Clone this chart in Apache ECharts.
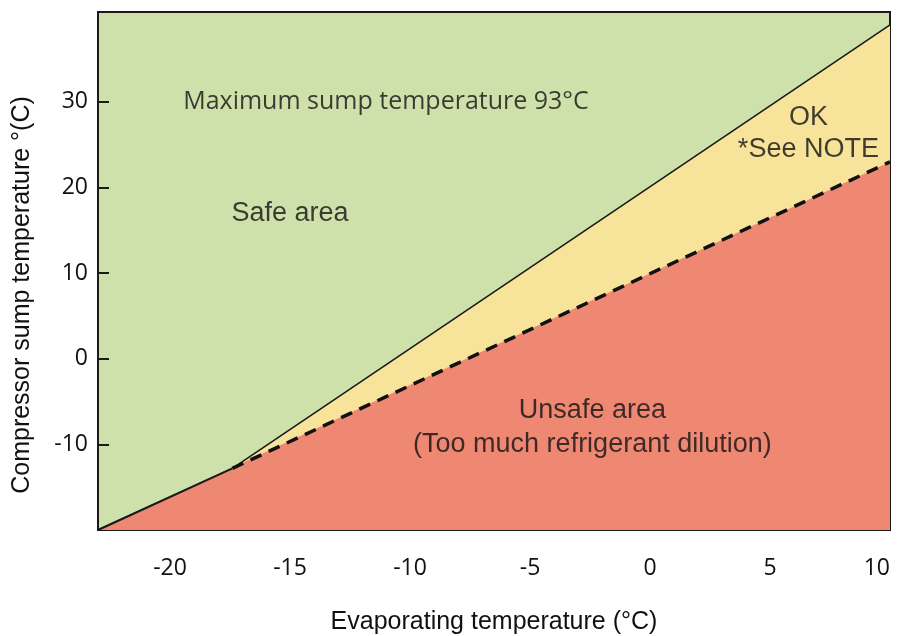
<!DOCTYPE html>
<html>
<head>
<meta charset="utf-8">
<script src="https://cdn.jsdelivr.net/npm/echarts@6/dist/echarts.min.js"></script>
<style>
  html, body { margin: 0; padding: 0; background: #fff; }
  #chart { width: 899px; height: 636px; }
</style>
</head>
<body>
<div id="chart"></div>
<script>
// axis ticks
const xTicks = [-20, -15, -10, -5, 0, 5, 10]
const yTicks = [-10, 0, 10, 20, 30]

// upper boundary (solid line), safe above it
const safeLine = [[-23, -20], [-17.4, -12.8], [10, 39]]
// lower boundary, unsafe below it
const unsafeLine = [[-23, -20], [10, 23]]
// dashed part of lower boundary
const dashedLine = [[-17.4, -12.8], [10, 23]]

// area labels [x, y, text]
const notes = [
  [-11, 30, 'Maximum sump temperature 93°C'],
  [-15, 17, 'Safe area'],
  [6.6, 28.2, 'OK'],
  [6.6, 24.4, '*See NOTE'],
  [-2.4, -6, 'Unsafe area'],
  [-2.4, -10, '(Too much refrigerant dilution)']
]

const font = 'Liberation Sans'
const tickFont = 'Open Sans'
const textColor = '#111'
const frameColor = '#1a1a1a'
const chart = echarts.init(document.getElementById('chart'))

chart.setOption({
  backgroundColor: '#fff',
  animation: false,
  grid: {
    left: 98,
    right: 9,
    top: 12,
    bottom: 106,
    outerBoundsMode: 'none',
    containLabel: false,
    show: true,
    backgroundColor: '#cfe1aa',
    borderColor: frameColor,
    borderWidth: 2
  },
  xAxis: {
    type: 'value',
    min: -23,
    max: 10,
    name: 'Evaporating temperature (°C)',
    nameLocation: 'middle',
    nameGap: 80,
    nameTextStyle: { fontFamily: font, fontSize: 25, color: textColor },
    splitLine: { show: false },
    axisLine: { show: true, onZero: false, lineStyle: { color: frameColor, width: 2 } },
    axisTick: {
      show: true,
      inside: true,
      length: 11,
      customValues: xTicks,
      lineStyle: { color: frameColor, width: 2 }
    },
    axisLabel: {
      customValues: xTicks,
      alignMaxLabel: 'right',
      margin: 27,
      fontFamily: tickFont,
      fontSize: 23,
      color: textColor
    }
  },
  yAxis: {
    type: 'value',
    min: -20,
    max: 40.5,
    name: 'Compressor sump temperature °(C)',
    nameLocation: 'middle',
    nameRotate: 90,
    nameGap: 63,
    nameTextStyle: { fontFamily: font, fontSize: 25, color: textColor, padding: [0, 48, 0, 0] },
    splitLine: { show: false },
    axisLine: { show: true, onZero: false, lineStyle: { color: frameColor, width: 2 } },
    axisTick: {
      show: true,
      inside: true,
      length: 11,
      customValues: yTicks,
      lineStyle: { color: frameColor, width: 2 }
    },
    axisLabel: {
      customValues: yTicks,
      margin: 10,
      fontFamily: tickFont,
      fontSize: 23,
      color: textColor
    }
  },
  series: [{
    name: 'OK',
    type: 'line',
    data: safeLine,
    symbol: 'none',
    lineStyle: { color: frameColor, width: 1.6 },
    areaStyle: { color: '#f8e39a', opacity: 1, origin: 'start' },
    z: 2
  }, {
    name: 'Unsafe',
    type: 'line',
    data: unsafeLine,
    symbol: 'none',
    lineStyle: { width: 0, opacity: 0 },
    areaStyle: { color: '#ef8873', opacity: 1, origin: 'start' },
    z: 3
  }, {
    name: 'boundary',
    type: 'line',
    data: safeLine.slice(0, 2),
    symbol: 'none',
    lineStyle: { color: frameColor, width: 2 },
    z: 4
  }, {
    name: 'dashed',
    type: 'line',
    data: dashedLine,
    symbol: 'none',
    lineStyle: { color: '#111', width: 3.5, type: [12, 8] },
    z: 4
  }, {
    name: 'notes',
    type: 'scatter',
    symbolSize: 0,
    data: notes.map((n, i) => ({
      value: [n[0], n[1]],
      name: n[2],
      label: i === 0 ? { fontFamily: tickFont, fontSize: 25 } : {}
    })),
    label: {
      show: true,
      position: 'inside',
      formatter: p => p.name,
      fontFamily: font,
      fontSize: 27,
      color: textColor
    },
    silent: true,
    z: 5
  }]
})
</script>
</body>
</html>
